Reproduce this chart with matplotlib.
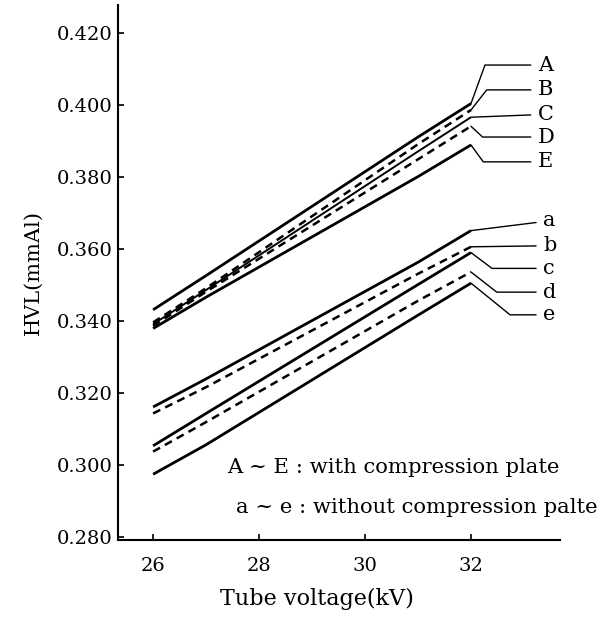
import matplotlib
matplotlib.use("Agg")
import matplotlib.pyplot as plt

# Tube voltage points (kV) where the curves were read
kv = [26, 27, 31, 32]

# HVL (mmAl), with compression plate
hvl_A = [0.3430, 0.3525, 0.3910, 0.4003]
hvl_B = [0.3395, 0.3490, 0.3890, 0.3985]
hvl_C = [0.3390, 0.3485, 0.3870, 0.3965]
hvl_D = [0.3385, 0.3480, 0.3848, 0.3940]
hvl_E = [0.3378, 0.3465, 0.3800, 0.3888]

# HVL (mmAl), without compression plate
hvl_a = [0.3160, 0.3238, 0.3562, 0.3650]
hvl_b = [0.3142, 0.3215, 0.3530, 0.3605]
hvl_c = [0.3052, 0.3142, 0.3500, 0.3589]
hvl_d = [0.3036, 0.3118, 0.3455, 0.3535]
hvl_e = [0.2973, 0.3055, 0.3415, 0.3504]

x_ticks = [26, 28, 30, 32]
y_ticks = [0.280, 0.300, 0.320, 0.340, 0.360, 0.380, 0.400, 0.420]

FONT = "DejaVu Serif"

fig = plt.figure(figsize=(6.12, 6.18), dpi=100)
ax = fig.add_axes([0.193, 0.126, 0.722, 0.866])

# (name, values, linestyle, linewidth, label y, leader angle or None)
series = [
    ("A", hvl_A, "-", 2.0, 0.4110, 70),
    ("B", hvl_B, "--", 1.8, 0.4041, 52),
    ("C", hvl_C, "-", 1.4, 0.3973, None),
    ("D", hvl_D, "--", 1.8, 0.3910, -43),
    ("E", hvl_E, "-", 2.0, 0.3841, -54),
    ("a", hvl_a, "-", 2.0, 0.3677, None),
    ("b", hvl_b, "--", 1.8, 0.3608, None),
    ("c", hvl_c, "-", 2.0, 0.3545, -37),
    ("d", hvl_d, "--", 1.8, 0.3479, -38),
    ("e", hvl_e, "-", 2.0, 0.3416, -39),
]

for name, vals, ls, lw, label_y, angle in series:
    line, = ax.plot(kv, vals, color="black", linestyle=ls, linewidth=lw,
                    solid_capstyle="butt")
    if ls == "--":
        line.set_dashes((3.2, 2.2))
    label_x = 33.26 if name.isupper() else 33.36
    if angle is None:
        cstyle = "arc3,rad=0"
    else:
        cstyle = f"angle,angleA=0,angleB={angle},rad=0"
    ax.annotate(name, xy=(kv[-1], vals[-1]), xytext=(label_x, label_y),
                textcoords="data", ha="left", va="center",
                fontsize=15, family=FONT,
                arrowprops=dict(arrowstyle="-", color="black", lw=1.0,
                                connectionstyle=cstyle,
                                shrinkA=3, shrinkB=0))

ax.text(27.40, 0.2992, "A ~ E : with compression plate", fontsize=15.2,
        family=FONT, ha="left", va="center")
ax.text(27.57, 0.2882, "a ~ e : without compression palte", fontsize=15.2,
        family=FONT, ha="left", va="center")

ax.set_xlim(25.34, 33.68)
ax.set_ylim(0.279, 0.4277)
ax.set_xticks(x_ticks)
ax.set_yticks(y_ticks)
ax.set_xticklabels([str(t) for t in x_ticks], family=FONT, fontsize=14)
ax.set_yticklabels([f"{t:.3f}" for t in y_ticks], family=FONT, fontsize=14)
ax.tick_params(axis="both", direction="in", length=4, width=1.2)
ax.tick_params(axis="x", pad=12)
ax.tick_params(axis="y", pad=4)

for side in ["top", "right"]:
    ax.spines[side].set_visible(False)
for side in ["left", "bottom"]:
    ax.spines[side].set_linewidth(1.5)

ax.set_ylabel("HVL(mmAl)", family=FONT, fontsize=15, labelpad=10)
ax.set_xlabel("Tube voltage(kV)", family=FONT, fontsize=16)
ax.xaxis.set_label_coords(0.45, -0.09)

fig.savefig("out.png", dpi=100)
